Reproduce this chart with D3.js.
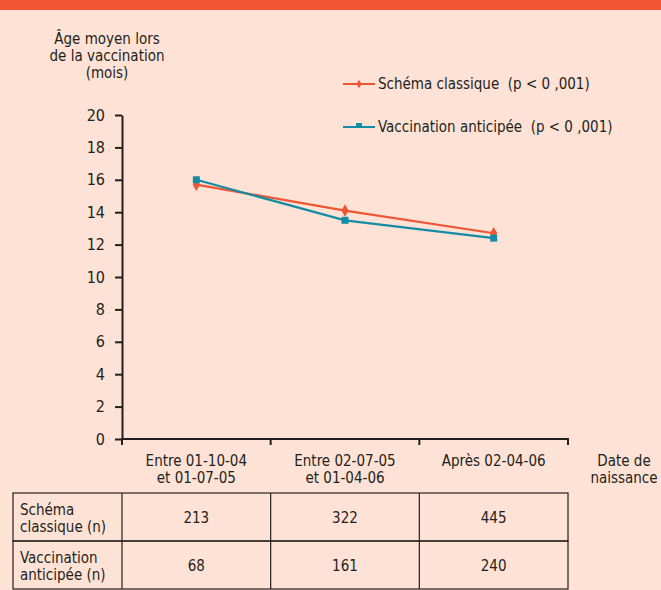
<!DOCTYPE html>
<html><head><meta charset="utf-8">
<script src="https://cdn.jsdelivr.net/npm/d3@7/dist/d3.min.js"></script>
<style>
html,body{margin:0;padding:0;background:#fee2d5;}
svg{display:block;}
text{font-family:"DejaVu Sans Condensed","Liberation Sans Narrow",sans-serif;font-stretch:condensed;fill:#231f20;white-space:pre;}
</style></head>
<body>
<svg id="chart" width="661" height="590"></svg>
<script>
const categories = [["Entre 01-10-04","et 01-07-05"],["Entre 02-07-05","et 01-04-06"],["Après 02-04-06"]];
const classique = [15.7, 14.1, 12.7];
const anticipee = [16.0, 13.5, 12.4];
const yTicks = [0,2,4,6,8,10,12,14,16,18,20];
const seriesNames = ["Schéma classique  (p < 0 ,001)", "Vaccination anticipée  (p < 0 ,001)"];
const rowLabels = [["Schéma","classique (n)"],["Vaccination","anticipée (n)"]];
const nClassique = [213, 322, 445];
const nAnticipee = [68, 161, 240];

const FS = 15, LH = 17;
const orange = "#ee5535", teal = "#138da4", ink = "#231f20";
const svg = d3.select("#chart");
svg.append("rect").attr("x",0).attr("y",0).attr("width",661).attr("height",10).attr("fill","#f15533");

const x = d3.scaleBand().domain(d3.range(categories.length)).range([122,568]).padding(0);
const y = d3.scaleLinear().domain([0,20]).range([439,115]);

function multi(g, lines, px, py, anchor){
  lines.forEach((l,j)=>g.append("text").attr("x",px).attr("y",py+j*LH).attr("text-anchor",anchor).attr("font-size",FS).text(l));
}

// y axis
const yAxis = svg.append("g").attr("transform","translate(122,0)")
  .call(d3.axisLeft(y).tickValues(yTicks).tickSize(7).tickPadding(10).tickSizeOuter(0));
yAxis.select(".domain").attr("stroke",ink).attr("stroke-width",2);
yAxis.selectAll(".tick line").attr("stroke",ink).attr("stroke-width",2);
yAxis.selectAll(".tick text").attr("font-size",16).attr("fill",ink).style("font-family",null);

// x axis
const xAxis = svg.append("g").attr("transform","translate(0,439)");
xAxis.append("line").attr("x1",x.range()[0]).attr("x2",x.range()[1]).attr("stroke",ink).attr("stroke-width",2);
const bounds = d3.range(categories.length).map(i=>x(i)).concat([x.range()[1]]);
xAxis.selectAll("line.t").data(bounds).join("line").attr("class","t")
  .attr("x1",d=>d).attr("x2",d=>d).attr("y1",-1).attr("y2",6).attr("stroke",ink).attr("stroke-width",2);
categories.forEach((lines,i)=>multi(xAxis, lines, x(i)+x.bandwidth()/2, 27, "middle"));
multi(svg, ["Date de","naissance"], 624, 466, "middle");

// y title
multi(svg, ["Âge moyen lors","de la vaccination","(mois)"], 107, 44, "middle");

// lines
const cx = i => x(i)+x.bandwidth()/2;
const line = d3.line().x((d,i)=>cx(i)).y(d=>y(d));
svg.append("path").datum(classique).attr("d",line).attr("fill","none").attr("stroke",orange).attr("stroke-width",2.2);
svg.append("path").datum(anticipee).attr("d",line).attr("fill","none").attr("stroke",teal).attr("stroke-width",2.2);
svg.selectAll("path.dm").data(classique).join("path").attr("class","dm")
  .attr("d",d3.symbol().type(d3.symbolDiamond).size(45))
  .attr("transform",(d,i)=>`translate(${cx(i)},${y(d)})`).attr("fill",orange);
svg.selectAll("rect.sq").data(anticipee).join("rect").attr("class","sq")
  .attr("x",(d,i)=>cx(i)-3.5).attr("y",d=>y(d)-3.5).attr("width",7).attr("height",7).attr("fill",teal);

// legend
const lg = [[orange,"diamond",84],[teal,"square",127]];
lg.forEach(([c,s,ly],i)=>{
  svg.append("line").attr("x1",343).attr("x2",375).attr("y1",ly).attr("y2",ly).attr("stroke",c).attr("stroke-width",2);
  if(s==="diamond") svg.append("path").attr("d",d3.symbol().type(d3.symbolDiamond).size(22)).attr("transform",`translate(359,${ly})`).attr("fill",c);
  else svg.append("rect").attr("x",356).attr("y",ly-4).attr("width",6).attr("height",4).attr("fill",c);
  svg.append("text").attr("x",378).attr("y",ly+5).attr("font-size",FS).text(seriesNames[i]);
});

// table
const tTop = 493, rowH = 48, tLeft = 13, col0 = 122;
const cols = [tLeft, col0].concat(d3.range(categories.length).map(i=>x(i)+x.bandwidth()));
const tbl = svg.append("g");
const rowsData = [nClassique, nAnticipee];
rowsData.forEach((vals,r)=>{
  const ry = tTop + r*rowH;
  tbl.append("rect").attr("x",tLeft).attr("y",ry).attr("width",cols[cols.length-1]-tLeft).attr("height",rowH)
    .attr("fill","none").attr("stroke",ink).attr("stroke-width",1.2);
  multi(tbl, rowLabels[r], 20, ry+22, "start");
  vals.forEach((v,i)=>tbl.append("text").attr("x",cx(i)).attr("y",ry+30).attr("text-anchor","middle").attr("font-size",FS).text(v));
});
cols.slice(1,-1).forEach(cxp=>tbl.append("line").attr("x1",cxp).attr("x2",cxp).attr("y1",tTop).attr("y2",tTop+2*rowH).attr("stroke",ink).attr("stroke-width",1.2));
</script>
</body></html>
